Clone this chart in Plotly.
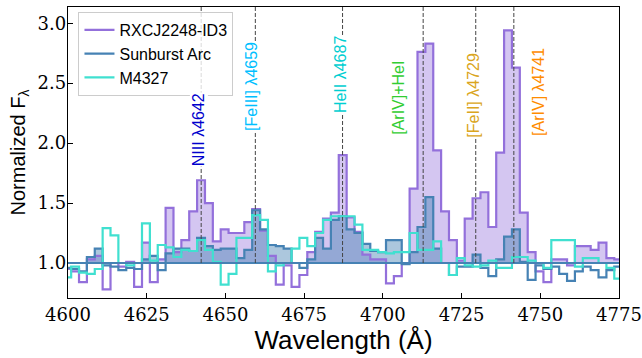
import numpy as np
import plotly.graph_objects as go

# ---- data (normalized flux per 2.5 A bin, bin centres start at 4599.75 A) ----
bin_first_center = 4599.75
bin_width = 2.5

rxcj = [0.95, 0.93, 0.84, 1.03, 1.06, 0.78, 1.00, 0.97, 1.01, 0.80,
        1.17, 0.84, 1.03, 1.46, 1.09, 1.19, 1.43, 1.69, 1.50, 1.18,
        1.28, 1.25, 1.25, 1.34, 1.45, 1.27, 1.06, 0.82, 0.98, 0.80,
        0.90, 1.09, 1.26, 1.37, 1.42, 1.90, 1.38, 1.26, 1.07, 1.03,
        1.03, 0.83, 0.89, 1.00, 1.62, 2.76, 2.83, 1.94, 1.43, 1.19,
        1.02, 1.37, 1.54, 1.59, 1.30, 1.92, 2.94, 2.63, 1.42, 1.09,
        0.93, 0.84, 1.03, 1.03, 0.98, 1.14, 1.14, 1.11, 1.17, 1.04,
        1.03, 1.00]

sunburst = [0.96, 0.95, 0.93, 1.05, 1.12, 0.98, 0.97, 0.94, 0.96, 0.95,
            1.03, 1.06, 0.94, 1.08, 1.12, 1.12, 1.10, 1.21, 1.14, 1.11,
            1.12, 1.12, 1.04, 1.11, 1.44, 1.28, 1.15, 1.14, 1.12, 1.00,
            0.96, 1.03, 1.21, 1.12, 1.36, 1.39, 1.28, 1.25, 1.16, 1.10,
            1.09, 1.19, 1.19, 0.99, 1.09, 1.30, 1.55, 1.12, 1.00, 0.90,
            0.97, 0.97, 1.07, 0.96, 0.89, 1.03, 1.22, 1.28, 1.01, 0.86,
            0.98, 0.95, 0.97, 0.91, 0.85, 0.93, 0.97, 0.94, 0.88, 0.94,
            0.97, 0.97]

m4327 = [0.88, 0.97, 0.92, 0.91, 0.95, 1.29, 1.23, 1.00, 0.98, 1.00,
         1.33, 1.02, 1.15, 1.13, 1.05, 1.11, 1.10, 1.19, 1.11, 1.01,
         0.82, 0.91, 1.21, 1.21, 1.40, 1.36, 0.93, 0.98, 1.00, 1.12,
         1.21, 1.14, 1.25, 1.36, 1.39, 1.39, 1.39, 1.32, 1.11, 1.11,
         1.09, 1.08, 1.09, 1.09, 1.25, 1.11, 1.11, 1.18, 1.00, 0.90,
         1.04, 0.98, 0.97, 0.98, 1.02, 0.96, 0.96, 1.05, 1.05, 1.02,
         1.00, 0.96, 1.19, 1.19, 1.19, 0.97, 1.04, 1.04, 1.00, 0.96,
         0.87, 0.87]

series_names = ["RXCJ2248-ID3", "Sunburst Arc", "M4327"]
series_colors = ["#9370DB", "#4682B4", "#40E0D0"]
fill_colors = ["rgba(147,112,219,0.40)", "rgba(70,130,180,0.45)", None]

line_labels = ["NIII λ4642", "[FeIII] λ4659", "HeII λ4687",
               "[ArIV]+HeI", "[FeII] λ4729", "[ArIV] λ4741"]
line_waves = [4642.3, 4659.5, 4687.2, 4712.8, 4729.5, 4741.6]
label_x = [4641.7, 4658.5, 4686.5, 4704.9, 4728.8, 4749.4]
label_y = [2.11, 2.47, 2.57, 2.38, 2.40, 2.43]
label_colors = ["#0000CD", "#00BFFF", "#00CED1", "#32CD32", "#DAA520", "#FF8C00"]

x_ticks = [4600, 4625, 4650, 4675, 4700, 4725, 4750, 4775]
y_ticks = [1.0, 1.5, 2.0, 2.5, 3.0]

# ---- figure ----
wave = bin_first_center + bin_width * np.arange(len(rxcj))

fig = go.Figure()
all_series = [rxcj, sunburst, m4327]

# fills above continuum
for vals, fc in zip(all_series, fill_colors):
    if fc is None:
        continue
    v = np.array(vals)
    fig.add_trace(go.Scatter(x=wave, y=np.ones_like(v), mode="lines",
                             line=dict(width=0), showlegend=False, hoverinfo="skip"))
    fig.add_trace(go.Scatter(x=wave, y=np.maximum(v, 1.0), mode="lines",
                             line=dict(width=0, shape="hvh"), fill="tonexty",
                             fillcolor=fc, showlegend=False, hoverinfo="skip"))

for vals, name, col in zip(all_series, series_names, series_colors):
    fig.add_trace(go.Scatter(x=wave, y=vals, mode="lines", name=name,
                             line=dict(color=col, width=2.2, shape="hvh")))

# continuum line
fig.add_shape(type="line", xref="paper", yref="y", x0=0, x1=1, y0=1, y1=1,
              line=dict(color="#4682B4", width=2.2), layer="above")

# emission-line markers
for w in line_waves:
    fig.add_shape(type="line", xref="x", yref="y", x0=w, x1=w, y0=1.0, y1=3.2,
                  line=dict(color="#444444", width=1, dash="4px,2px"), layer="above")

for txt, lx, ly, c in zip(line_labels, label_x, label_y, label_colors):
    fig.add_annotation(x=lx, y=ly, xref="x", yref="y", text=txt, textangle=-90,
                       showarrow=False, font=dict(family="Liberation Sans", size=16, color=c),
                       bgcolor="white", borderpad=0)

fig.update_layout(
    width=642, height=358,
    margin=dict(l=68, r=23, t=7, b=60),
    plot_bgcolor="white", paper_bgcolor="white",
    showlegend=True,
    legend=dict(x=0.019, y=0.983, xanchor="left", yanchor="top", traceorder="normal",
                bgcolor="rgba(255,255,255,0.8)", bordercolor="#cccccc", borderwidth=1,
                font=dict(family="Liberation Sans", size=16, color="black"),
                itemwidth=30, tracegroupgap=0),
)
fig.update_xaxes(range=[4600, 4775], tickvals=x_ticks, ticktext=[str(t) for t in x_ticks],
                 ticks="inside", ticklen=5, tickcolor="black", showgrid=False, zeroline=False,
                 showline=True, linecolor="black", linewidth=1.3, mirror=True, automargin=False,
                 ticklabeloverflow="allow",
                 tickfont=dict(family="DejaVu Serif", size=18, color="black"),
                 title=dict(text="Wavelength (Å)", font=dict(family="Liberation Sans", size=26, color="black"),
                            standoff=2))
fig.update_yaxes(range=[0.708, 3.135], tickvals=y_ticks, ticktext=[f"{t:.1f}" for t in y_ticks],
                 ticks="inside", ticklen=5, tickcolor="black", showgrid=False, zeroline=False,
                 showline=True, linecolor="black", linewidth=1.3, mirror=True, automargin=False,
                 ticklabelstandoff=-3,
                 tickfont=dict(family="DejaVu Serif", size=18, color="black"),
                 title=dict(text="Normalized F<sub>λ</sub>", font=dict(family="Liberation Sans", size=20, color="black"),
                            standoff=6))

fig.write_html("out.html", config={"displayModeBar": False},
               post_script="document.body.style.margin='0';document.body.style.padding='0';")
